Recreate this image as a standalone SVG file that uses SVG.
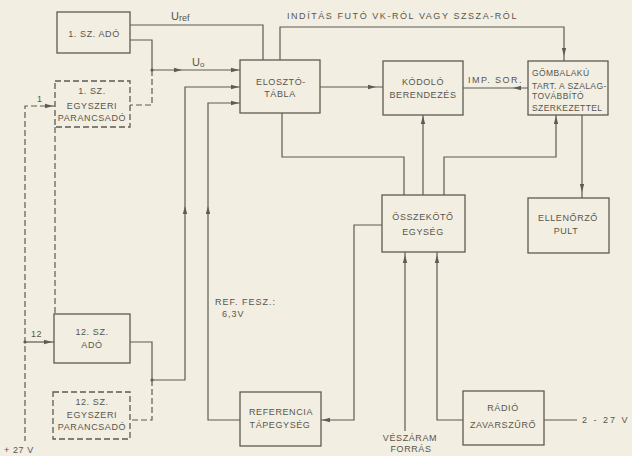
<svg xmlns="http://www.w3.org/2000/svg" width="632" height="456" viewBox="0 0 632 456">
<style>
.bg{fill:#f2eee2}
.box{fill:none;stroke:#5c5b55;stroke-width:1.3}
.dbox{fill:none;stroke:#5c5b55;stroke-width:1.3;stroke-dasharray:6,3}
.ln{fill:none;stroke:#5c5b55;stroke-width:1.2}
.dl{fill:none;stroke:#5c5b55;stroke-width:1.2;stroke-dasharray:6,3}
text{font-family:"Liberation Sans",Arial,sans-serif;font-size:9px;fill:#57564f;letter-spacing:0.6px}
.c{text-anchor:middle}
.g{font-size:8.5px;letter-spacing:0.4px}
.ah{fill:#5c5b55}
</style>
<defs>
<path id="ah" d="M0,0 L-8,-2.2 L-8,2.2 Z"/>
</defs>
<rect class="bg" x="0" y="0" width="632" height="456"/>

<g id="connectors">
<path class="ln" d="M130,25 H263 V60"/>
<path class="ln" d="M130,40 H152 V70 H240"/>
<path class="dl" d="M152,70 V105 H130"/>
<path class="ln" d="M280,60 V27 H564 V61"/>
<path class="ln" d="M130,342 H152 V380 H185 V87 H240"/>
<path class="dl" d="M152,380 V420 H130"/>
<path class="ln" d="M240,420 H208 V103 H240"/>
<path class="ln" d="M320,87 H383"/>
<path class="ln" d="M463,88 H528"/>
<path class="ln" d="M282,113 V157 H404 V195"/>
<path class="ln" d="M423,195 V115"/>
<path class="ln" d="M444,195 V157 H556 V115"/>
<path class="ln" d="M582,115 V198"/>
<path class="ln" d="M382,225 H354 V420 H321"/>
<path class="ln" d="M405,252 V431"/>
<path class="ln" d="M437,252 V420 H463"/>
<path class="ln" d="M544,420 H577"/>
<path class="dl" d="M55,106 H25 V441"/>
<path class="dl" d="M55,127 V314"/>
<path class="ln" d="M25,342 H54"/>
<circle class="ah" cx="152" cy="70" r="1.6"/>
<circle class="ah" cx="152" cy="380" r="1.6"/>
<circle class="ah" cx="25" cy="342" r="1.6"/>
<use href="#ah" class="ah" transform="translate(182,70)"/>
<use href="#ah" class="ah" transform="translate(239,70)"/>
<use href="#ah" class="ah" transform="translate(239,87)"/>
<use href="#ah" class="ah" transform="translate(239,103)"/>
<use href="#ah" class="ah" transform="translate(376,87)"/>
<use href="#ah" class="ah" transform="translate(513,88) rotate(180)"/>
<use href="#ah" class="ah" transform="translate(564,56) rotate(90)"/>
<use href="#ah" class="ah" transform="translate(423,116) rotate(-90)"/>
<use href="#ah" class="ah" transform="translate(556,116) rotate(-90)"/>
<use href="#ah" class="ah" transform="translate(582,192) rotate(90)"/>
<use href="#ah" class="ah" transform="translate(185,206) rotate(-90)"/>
<use href="#ah" class="ah" transform="translate(208,206) rotate(-90)"/>
<use href="#ah" class="ah" transform="translate(405,255) rotate(-90)"/>
<use href="#ah" class="ah" transform="translate(437,255) rotate(-90)"/>
<use href="#ah" class="ah" transform="translate(322,420) rotate(180)"/>
<use href="#ah" class="ah" transform="translate(52,342)"/>
<use href="#ah" class="ah" transform="translate(53,106)"/>
</g>

<g id="labels">
<text x="171" y="20" style="font-size:11px;letter-spacing:0">U<tspan style="font-size:9px" dy="1">ref</tspan></text>
<text x="192" y="66" style="font-size:11px;letter-spacing:0">U<tspan style="font-size:8px" dy="1">o</tspan></text>
<text x="287" y="19" textLength="230" lengthAdjust="spacing">INDÍTÁS FUTÓ VK-RÓL VAGY SZSZA-RÓL</text>
<text x="468" y="83" textLength="54" lengthAdjust="spacing">IMP. SOR.</text>
<text x="37" y="102">1</text>
<text x="31" y="337">12</text>
<text x="215" y="305" style="letter-spacing:1px">REF. FESZ.:</text>
<text x="222" y="317" style="letter-spacing:1px">6,3V</text>
<text x="410" y="441" class="c">VÉSZÁRAM</text>
<text x="411" y="452" class="c">FORRÁS</text>
<text x="582" y="423" textLength="46" lengthAdjust="spacing">2 - 27 V</text>
<text x="4" y="453">+ 27 V</text>
</g>

<g id="n_ado1">
<rect class="box" x="57" y="12" width="73" height="41"/>
<text x="94" y="37" class="c">1. SZ. ADÓ</text>
</g>
<g id="n_parancs1">
<rect class="dbox" x="55" y="81" width="75" height="46"/>
<text x="92" y="94" class="c">1. SZ.</text>
<text x="92" y="109" class="c">EGYSZERI</text>
<text x="92" y="121" class="c">PARANCSADÓ</text>
</g>
<g id="n_eloszto">
<rect class="box" x="240" y="60" width="80" height="53"/>
<text x="281" y="85" class="c">ELOSZTÓ-</text>
<text x="280" y="97" class="c">TÁBLA</text>
</g>
<g id="n_kodolo">
<rect class="box" x="383" y="61" width="80" height="54"/>
<text x="423" y="85" class="c">KÓDOLÓ</text>
<text x="423" y="98" class="c">BERENDEZÉS</text>
</g>
<g id="n_gomb">
<rect class="box" x="528" y="61" width="80" height="54"/>
<text x="532" y="76" class="g">GÖMBALAKÚ</text>
<text x="532" y="89" class="g">TART. A SZALAG-</text>
<text x="532" y="99" class="g">TOVÁBBÍTÓ</text>
<text x="532" y="111" class="g">SZERKEZETTEL</text>
</g>
<g id="n_osszekoto">
<rect class="box" x="382" y="195" width="83" height="57"/>
<text x="423" y="220" class="c">ÖSSZEKÖTŐ</text>
<text x="423" y="235" class="c">EGYSÉG</text>
</g>
<g id="n_ellenorzo">
<rect class="box" x="528" y="198" width="81" height="55"/>
<text x="568" y="221" class="c">ELLENŐRZŐ</text>
<text x="566" y="234" class="c">PULT</text>
</g>
<g id="n_ado12">
<rect class="box" x="54" y="314" width="76" height="49"/>
<text x="92" y="335" class="c">12. SZ.</text>
<text x="92" y="348" class="c">ADÓ</text>
</g>
<g id="n_parancs12">
<rect class="dbox" x="53" y="392" width="77" height="47"/>
<text x="92" y="405" class="c">12. SZ.</text>
<text x="92" y="418" class="c">EGYSZERI</text>
<text x="92" y="430" class="c">PARANCSADÓ</text>
</g>
<g id="n_referencia">
<rect class="box" x="240" y="392" width="81" height="54"/>
<text x="281" y="415" class="c">REFERENCIA</text>
<text x="280" y="428" class="c">TÁPEGYSÉG</text>
</g>
<g id="n_radio">
<rect class="box" x="463" y="391" width="81" height="54"/>
<text x="503" y="411" class="c">RÁDIÓ</text>
<text x="503" y="428" class="c">ZAVARSZŰRŐ</text>
</g>
</svg>
